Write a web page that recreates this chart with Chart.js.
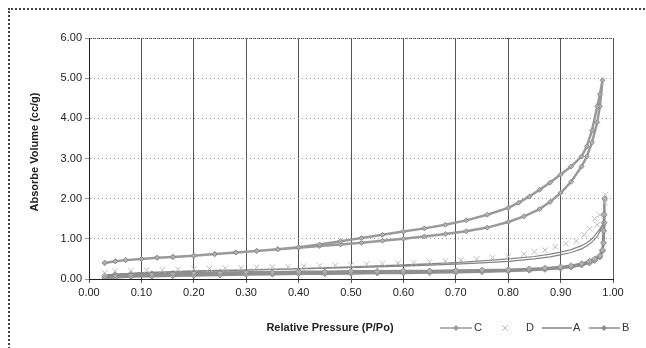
<!DOCTYPE html>
<html><head><meta charset="utf-8">
<script src="https://cdn.jsdelivr.net/npm/chart.js@4/dist/chart.umd.min.js"></script>
<style>
html,body{margin:0;padding:0;background:#fff;}
#wrap{position:relative;width:646px;height:348px;}
#frame{position:absolute;left:8px;top:8px;width:640px;height:345px;border-left:2px dotted #444;border-top:2px dotted #444;box-sizing:border-box;pointer-events:none;}
canvas{position:absolute;left:0;top:0;}
</style></head>
<body><div id="wrap"><canvas id="c" width="646" height="348"></canvas><div id="frame"></div></div>
<script>
const xTitle = "Relative Pressure (P/Po)";
const yTitle = "Absorbe Volume (cc/g)";
const seriesNames = ["C", "D", "A", "B"];

// C : upper hysteresis loop (adsorption then desorption)
const cX = [0.03,0.05,0.07,0.10,0.13,0.16,0.20,0.24,0.28,0.32,0.36,0.40,0.44,0.48,0.52,0.56,0.60,0.64,0.68,0.72,0.76,0.80,0.83,0.86,0.88,0.90,0.92,0.94,0.95,0.96,0.97,0.975,0.98,
            0.975,0.97,0.96,0.95,0.94,0.92,0.90,0.88,0.86,0.84,0.82,0.80,0.76,0.72,0.68,0.64,0.60,0.56,0.52,0.48,0.44,0.40,0.36,0.32,0.28,0.24,0.20,0.16,0.13,0.10,0.07,0.05,0.03];
const cY = [0.40,0.44,0.47,0.50,0.53,0.55,0.58,0.62,0.66,0.70,0.74,0.78,0.82,0.86,0.90,0.95,1.00,1.06,1.12,1.19,1.28,1.42,1.56,1.74,1.92,2.14,2.42,2.80,3.05,3.40,3.90,4.30,4.95,
            4.60,4.30,3.70,3.30,3.05,2.80,2.60,2.40,2.22,2.05,1.90,1.77,1.60,1.46,1.35,1.26,1.18,1.10,1.02,0.94,0.86,0.79,0.74,0.70,0.66,0.62,0.58,0.55,0.53,0.50,0.47,0.44,0.40];

// D : crosses
const dX = [0.03,0.05,0.08,0.11,0.14,0.17,0.20,0.23,0.26,0.29,0.32,0.35,0.38,0.41,0.44,0.47,0.50,0.53,0.56,0.59,0.62,0.65,0.68,0.71,0.74,0.77,0.80,0.83,0.85,0.87,0.89,0.91,0.93,0.945,0.955,0.965,0.97,0.975,0.985,0.985];
const dY = [0.15,0.20,0.21,0.22,0.23,0.24,0.25,0.26,0.27,0.28,0.29,0.30,0.31,0.32,0.33,0.34,0.35,0.37,0.38,0.40,0.41,0.43,0.45,0.47,0.50,0.53,0.56,0.62,0.68,0.72,0.80,0.88,0.95,1.10,1.25,1.50,1.35,1.60,2.10,1.90];

// A : thin line loop
const aX = [0.03,0.06,0.10,0.15,0.20,0.30,0.40,0.50,0.60,0.70,0.75,0.80,0.85,0.88,0.90,0.92,0.94,0.95,0.96,0.97,0.975,0.98,
            0.975,0.97,0.96,0.95,0.94,0.92,0.90,0.88,0.85,0.80,0.75,0.70,0.60,0.50,0.40,0.30,0.20,0.10,0.03];
const aY = [0.10,0.13,0.15,0.17,0.19,0.22,0.25,0.28,0.32,0.37,0.40,0.44,0.50,0.55,0.60,0.66,0.75,0.82,0.92,1.06,1.18,1.35,
            1.25,1.16,1.00,0.90,0.83,0.73,0.67,0.62,0.56,0.50,0.45,0.41,0.35,0.30,0.26,0.23,0.20,0.16,0.10];

// B : lower diamond loop
const bX = [0.03,0.05,0.08,0.12,0.16,0.20,0.25,0.30,0.35,0.40,0.45,0.50,0.55,0.60,0.65,0.70,0.75,0.80,0.84,0.87,0.90,0.92,0.94,0.955,0.965,0.975,0.98,0.982,0.983,0.984,
            0.983,0.982,0.98,0.975,0.965,0.955,0.94,0.92,0.90,0.87,0.84,0.80,0.75,0.70,0.65,0.60,0.55,0.50,0.45,0.40,0.35,0.30,0.25,0.20,0.16,0.12,0.08,0.05,0.03];
const bY = [0.03,0.04,0.06,0.07,0.08,0.09,0.10,0.11,0.12,0.13,0.13,0.14,0.15,0.15,0.16,0.17,0.18,0.20,0.22,0.24,0.27,0.30,0.35,0.40,0.46,0.55,0.70,1.20,1.60,2.00,
            1.40,0.90,0.72,0.58,0.50,0.44,0.38,0.33,0.30,0.27,0.25,0.23,0.22,0.21,0.20,0.20,0.19,0.19,0.18,0.18,0.17,0.17,0.16,0.15,0.14,0.13,0.12,0.10,0.08];

const xTicks = [0,0.1,0.2,0.3,0.4,0.5,0.6,0.7,0.8,0.9,1.0];
const yTicks = [0,1,2,3,4,5,6];

const pts = (xs, ys) => xs.map((x, i) => ({x: x, y: ys[i]}));

const colC = '#9a9a9a', colD = '#bdbdbd', colA = '#858585', colB = '#8f8f8f';

const overlay = {
  id: 'overlay',
  afterDraw(chart) {
    const ctx = chart.ctx, a = chart.chartArea;
    ctx.save();
    // dotted top and right border of plot
    ctx.strokeStyle = '#555'; ctx.lineWidth = 1; ctx.setLineDash([1,1]);
    ctx.beginPath();
    ctx.moveTo(a.left, a.top + 0.5); ctx.lineTo(a.right, a.top + 0.5);
    ctx.moveTo(a.right + 0.5, a.top); ctx.lineTo(a.right + 0.5, a.bottom);
    ctx.stroke();
    ctx.setLineDash([]);
    // solid y axis line
    ctx.strokeStyle = '#222';
    ctx.beginPath(); ctx.moveTo(a.left + 0.5, a.top); ctx.lineTo(a.left + 0.5, a.bottom); ctx.stroke();
    // y title
    ctx.fillStyle = '#222';
    ctx.font = 'bold 11px "Liberation Sans", Arial, sans-serif';
    ctx.textAlign = 'center'; ctx.textBaseline = 'middle';
    ctx.save(); ctx.translate(35, 152); ctx.rotate(-Math.PI/2); ctx.fillText(yTitle, 0, 0); ctx.restore();
    // x title
    ctx.fillText(xTitle, 330, 328);
    // legend
    ctx.font = '11px "Liberation Sans", Arial, sans-serif';
    ctx.textAlign = 'left';
    const ly = 328;
    function lineSeg(x1, x2, col){ ctx.strokeStyle = col; ctx.lineWidth = 1.5; ctx.beginPath(); ctx.moveTo(x1, ly); ctx.lineTo(x2, ly); ctx.stroke(); }
    function diamond(x, col){ ctx.fillStyle = col; ctx.beginPath(); ctx.moveTo(x, ly-3); ctx.lineTo(x+3, ly); ctx.lineTo(x, ly+3); ctx.lineTo(x-3, ly); ctx.closePath(); ctx.fill(); }
    lineSeg(440, 472, colC); diamond(456, colC);
    ctx.fillStyle = '#333'; ctx.fillText(seriesNames[0], 474, ly);
    ctx.strokeStyle = colD; ctx.lineWidth = 1; ctx.beginPath();
    ctx.moveTo(502, ly-3); ctx.lineTo(508, ly+3); ctx.moveTo(508, ly-3); ctx.lineTo(502, ly+3); ctx.stroke();
    ctx.fillStyle = '#333'; ctx.fillText(seriesNames[1], 526, ly);
    lineSeg(542, 572, colA);
    ctx.fillStyle = '#333'; ctx.fillText(seriesNames[2], 573, ly);
    lineSeg(589, 620, colB); diamond(604, colB);
    ctx.fillStyle = '#333'; ctx.fillText(seriesNames[3], 622, ly);
    ctx.restore();
  }
};

new Chart(document.getElementById('c'), {
  type: 'scatter',
  data: {
    datasets: [
      {label: seriesNames[0], data: pts(cX, cY), showLine: true, borderColor: colC, backgroundColor: '#b0b0b0', borderWidth: 2.5, pointStyle: 'rectRot', pointRadius: 2.5, pointBorderWidth: 0.8, pointBorderColor: '#808080', tension: 0},
      {label: seriesNames[1], data: pts(dX, dY), showLine: false, borderColor: colD, backgroundColor: colD, pointStyle: 'crossRot', pointRadius: 4, pointBorderWidth: 1},
      {label: seriesNames[2], data: pts(aX, aY), showLine: true, borderColor: colA, backgroundColor: colA, borderWidth: 1.2, pointRadius: 0, tension: 0},
      {label: seriesNames[3], data: pts(bX, bY), showLine: true, borderColor: colB, backgroundColor: '#b0b0b0', borderWidth: 2.5, pointStyle: 'rectRot', pointRadius: 3, pointBorderWidth: 0.8, pointBorderColor: '#808080', tension: 0}
    ]
  },
  options: {
    responsive: false,
    animation: false,
    layout: {padding: {left: 8, right: 33, top: 38, bottom: 0}},
    plugins: {legend: {display: false}, tooltip: {enabled: false}},
    scales: {
      x: {
        type: 'linear', min: 0, max: 1,
        afterFit: s => { s.height = 69; },
        afterBuildTicks: s => { s.ticks = xTicks.map(v => ({value: v})); },
        ticks: {callback: v => v.toFixed(2), color: '#222', font: {family: '"Liberation Sans", Arial, sans-serif', size: 11}, padding: 3, maxRotation: 0, autoSkip: false},
        grid: {color: '#555', lineWidth: 1, tickLength: 4, drawTicks: true},
        border: {display: true, color: '#222', width: 1}
      },
      y: {
        type: 'linear', min: 0, max: 6,
        afterFit: s => { s.width = 81; },
        afterBuildTicks: s => { s.ticks = yTicks.map(v => ({value: v})); },
        ticks: {callback: v => v.toFixed(2), color: '#222', font: {family: '"Liberation Sans", Arial, sans-serif', size: 11}, padding: 3},
        grid: {color: '#999', lineWidth: 1, tickLength: 4, drawTicks: true},
        border: {display: true, color: '#222', width: 1, dash: [1, 3]}
      }
    }
  },
  plugins: [overlay]
});
</script>
</body></html>
